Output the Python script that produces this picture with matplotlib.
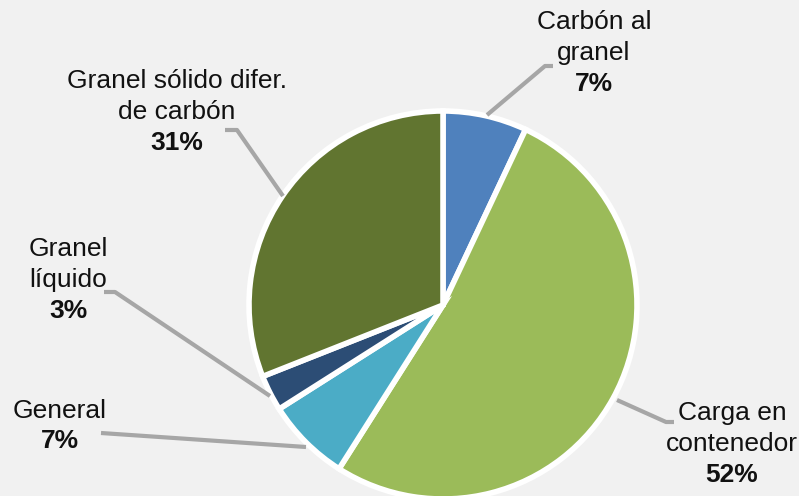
import matplotlib.pyplot as plt

# ===========================
# DATA
# ===========================
labels = ['Carbón al\ngranel', 'Carga en\ncontenedor', 'General',
          'Granel\nlíquido', 'Granel sólido difer.\nde carbón']
shares = [7, 52, 7, 3, 31]
colors = ['#4F81BD', '#9BBB59', '#4BACC6', '#2C4D75', '#617530']

# label text anchor (pixel coords, y down) and leader line points
label_pos = [(594, 53), (732, 444), (60, 426), (68, 280), (177, 112)]
leaders = [
    [(487, 115), (545, 66), (553, 66)],
    [(617, 400), (666, 422), (674, 422)],
    [(306, 447), (101, 433)],
    [(270, 396), (115, 292), (104, 292)],
    [(283, 196), (237, 130), (225, 130)],
]

W, H = 799, 496
CENTER = (443, 305)
RADIUS = 194
BG = '#F1F1F1'
LEADER_COLOR = '#A6A6A6'
FONT_SIZE = 19

plt.rcParams['font.family'] = ['Liberation Sans', 'DejaVu Sans']

fig = plt.figure(figsize=(W / 100, H / 100), dpi=100, facecolor=BG)
ax = fig.add_axes([0, 0, 1, 1])
ax.set_facecolor(BG)

ax.pie(shares, colors=colors, startangle=90, counterclock=False,
       center=(CENTER[0], H - CENTER[1]), radius=RADIUS,
       wedgeprops=dict(edgecolor='white', linewidth=4), frame=True)
ax.set_xlim(0, W)
ax.set_ylim(0, H)
ax.set_aspect('equal')
ax.axis('off')

for lab, val, (x, y), pts in zip(labels, shares, label_pos, leaders):
    xs = [p[0] for p in pts]
    ys = [H - p[1] for p in pts]
    ax.plot(xs, ys, color=LEADER_COLOR, linewidth=3, solid_capstyle='butt')
    n = lab.count('\n') + 1
    line_h = 31
    top = y - (n + 1) * line_h / 2
    for i, part in enumerate(lab.split('\n')):
        ax.text(x, H - (top + (i + 0.5) * line_h), part, ha='center',
                va='center', fontsize=FONT_SIZE, color='#111111')
    ax.text(x, H - (top + (n + 0.5) * line_h), f'{val}%', ha='center',
            va='center', fontsize=FONT_SIZE, fontweight='bold', color='#111111')

fig.savefig('out.png', dpi=100, facecolor=BG)
